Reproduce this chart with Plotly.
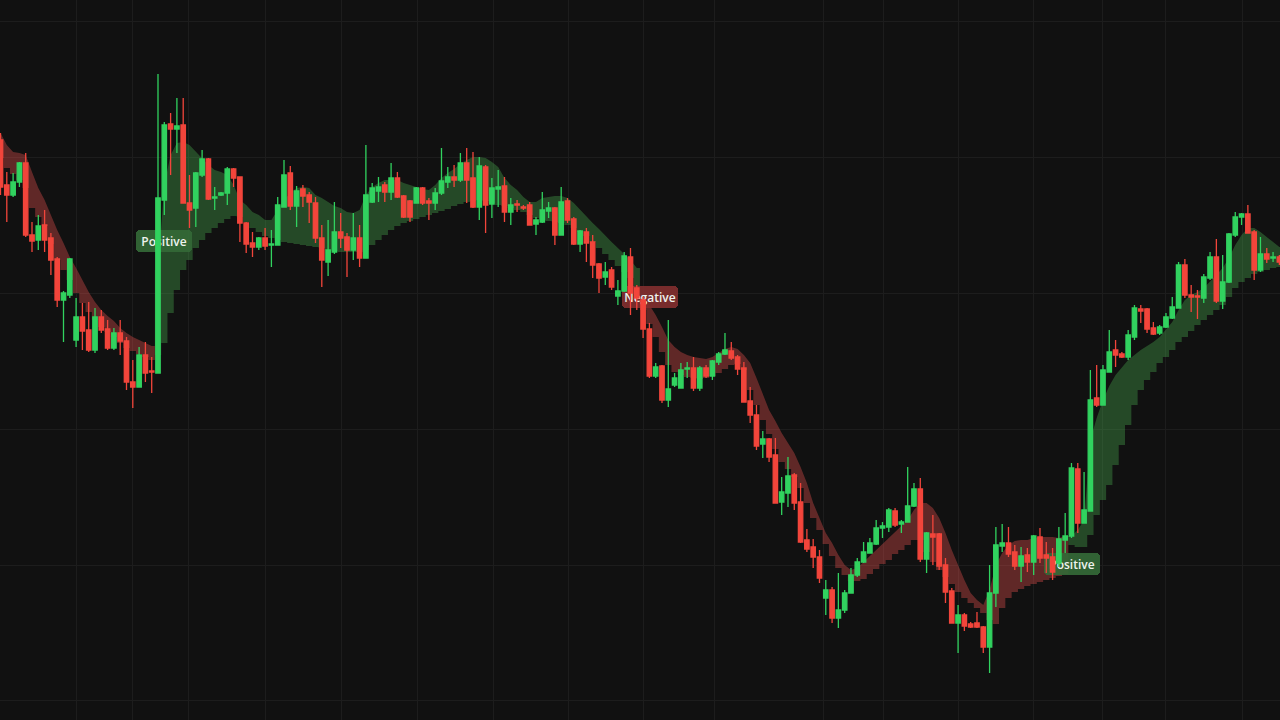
import plotly.graph_objects as go

# ---- candle data (price units) ----
open_ = [580, 535, 525, 538, 557, 485, 480, 495, 482, 461,
         420, 425, 380, 403, 390, 370, 403, 391, 372, 387,
         379, 338, 333, 365, 349, 347, 520, 596, 591, 595,
         517, 512, 545, 561, 522, 525, 527, 551, 543, 497,
         477, 473, 482, 475, 475, 513, 547, 514, 531, 525,
         517, 482, 458, 468, 488, 483, 470, 482, 462, 518,
         529, 535, 528, 542, 524, 519, 517, 532, 519, 517,
         527, 538, 543, 540, 557, 542, 513, 553, 516, 531,
         534, 508, 516, 513, 515, 496, 498, 509, 512, 485,
         519, 501, 476, 488, 478, 456, 443, 450, 424, 429,
         463, 432, 420, 391, 344, 354, 320, 335, 332, 351,
         352, 332, 352, 344, 358, 366, 369, 363, 352, 319,
         305, 276, 281, 265, 218, 227, 245, 218, 180, 173,
         163, 122, 130, 102, 110, 127, 145, 158, 167, 176,
         192, 193, 209, 196, 198, 214, 231, 161, 186, 186,
         155, 129, 97, 105, 96, 97, 93, 73, 127, 174,
         177, 168, 154, 165, 158, 183, 165, 163, 157, 180,
         184, 251, 197, 209, 322, 315, 348, 370, 366, 363,
         383, 411, 411, 392, 387, 393, 402, 412, 455, 425,
         424, 422, 442, 463, 419, 438, 485, 503, 506, 488,
         450, 466, 462, 463]
high = [587, 548, 547, 558, 567, 498, 505, 510, 487, 463,
        429, 462, 422, 417, 418, 412, 410, 400, 392, 400,
        383, 360, 373, 378, 363, 646, 598, 607, 622, 622,
        545, 548, 570, 562, 533, 528, 553, 552, 543, 498,
        488, 483, 492, 490, 523, 560, 554, 534, 535, 528,
        523, 495, 500, 518, 507, 487, 507, 495, 575, 537,
        543, 538, 557, 548, 525, 520, 533, 533, 522, 532,
        572, 553, 555, 567, 572, 568, 563, 555, 542, 550,
        543, 522, 520, 515, 518, 503, 528, 518, 513, 533,
        522, 503, 490, 492, 485, 457, 458, 453, 440, 468,
        472, 435, 423, 397, 357, 355, 400, 347, 357, 358,
        363, 354, 355, 360, 368, 387, 378, 365, 358, 333,
        315, 289, 282, 282, 243, 263, 247, 237, 191, 181,
        170, 140, 133, 147, 130, 152, 162, 178, 182, 200,
        198, 212, 212, 200, 253, 237, 242, 188, 205, 187,
        162, 132, 115, 107, 98, 108, 94, 155, 193, 196,
        193, 175, 173, 172, 185, 192, 178, 172, 193, 207,
        257, 257, 248, 350, 355, 355, 390, 380, 368, 390,
        415, 415, 412, 398, 395, 407, 423, 458, 461, 435,
        430, 446, 468, 481, 465, 487, 508, 507, 515, 490,
        483, 472, 468, 465]
low = [525, 498, 523, 533, 483, 468, 470, 468, 445, 413,
       378, 422, 373, 370, 368, 367, 387, 370, 370, 365,
       330, 312, 333, 338, 327, 347, 505, 545, 567, 517,
       492, 493, 543, 520, 510, 524, 515, 533, 478, 467,
       463, 470, 470, 453, 475, 513, 510, 493, 513, 497,
       477, 433, 444, 466, 472, 443, 460, 453, 462, 517,
       518, 518, 520, 522, 502, 498, 517, 515, 500, 510,
       525, 532, 533, 538, 517, 512, 500, 487, 502, 513,
       498, 495, 508, 510, 495, 485, 497, 502, 475, 485,
       497, 475, 468, 458, 442, 427, 435, 430, 415, 428,
       405, 410, 382, 342, 342, 317, 313, 333, 332, 342,
       329, 329, 342, 340, 355, 365, 360, 345, 318, 297,
       270, 262, 258, 217, 205, 213, 210, 177, 168, 152,
       137, 105, 97, 92, 107, 127, 143, 157, 167, 175,
       182, 188, 193, 187, 198, 213, 158, 147, 155, 150,
       117, 97, 67, 89, 92, 92, 67, 47, 113, 168,
       163, 150, 138, 148, 145, 157, 147, 140, 153, 167,
       182, 187, 197, 209, 313, 315, 348, 353, 362, 360,
       380, 397, 387, 385, 385, 392, 401, 412, 422, 408,
       401, 417, 440, 417, 411, 437, 483, 495, 487, 440,
       448, 457, 458, 455]
close = [533, 525, 538, 557, 485, 479, 494, 480, 460, 420,
         427, 461, 403, 389, 370, 403, 390, 372, 387, 379,
         338, 333, 365, 347, 348, 522, 595, 591, 594, 517,
         510, 547, 561, 521, 523, 527, 551, 542, 497, 476,
         473, 482, 474, 476, 515, 545, 514, 529, 524, 518,
         482, 460, 470, 488, 482, 470, 482, 462, 525, 532,
         533, 528, 542, 523, 503, 503, 532, 517, 517, 527,
         539, 543, 540, 557, 540, 513, 554, 515, 532, 533,
         508, 515, 515, 512, 495, 500, 510, 512, 485, 518,
         500, 476, 489, 477, 455, 442, 448, 433, 429, 464,
         427, 422, 391, 344, 353, 320, 331, 342, 350, 352,
         332, 352, 344, 359, 366, 370, 362, 351, 318, 305,
         274, 281, 263, 217, 228, 244, 217, 178, 171, 163,
         142, 130, 102, 110, 127, 145, 158, 168, 177, 192,
         194, 210, 195, 198, 214, 231, 161, 187, 183, 154,
         128, 97, 105, 94, 93, 93, 73, 127, 175, 177,
         166, 154, 164, 158, 184, 162, 162, 148, 181, 184,
         252, 197, 210, 320, 315, 350, 368, 365, 363, 385,
         412, 409, 391, 386, 393, 403, 413, 455, 425, 423,
         423, 443, 463, 419, 438, 486, 503, 506, 487, 450,
         466, 461, 463, 458]

# ---- trend cloud: smooth upper line and stepped lower line ----
band_hi = [587, 575, 568, 567, 565, 548, 532, 520, 505, 490,
           477, 463, 452, 440, 428, 418, 410, 404, 399, 392,
           387, 383, 380, 377, 374, 450, 535, 565, 577, 578,
           575, 568, 562, 555, 550, 548, 545, 535, 520, 515,
           508, 505, 500, 500, 510, 520, 527, 532, 533, 532,
           525, 522, 518, 514, 512, 508, 507, 510, 525, 533,
           537, 540, 540, 540, 537, 535, 533, 531, 530, 535,
           542, 547, 551, 556, 560, 563, 563, 562, 558, 553,
           542, 535, 530, 523, 518, 518, 522, 523, 524, 524,
           522, 517, 510, 503, 497, 491, 484, 478, 472, 466,
           460, 452, 423, 415, 405, 393, 380, 373, 368, 365,
           363, 362, 361, 363, 367, 371, 373, 371, 365, 357,
           342, 325, 310, 299, 287, 277, 267, 253, 237, 217,
           202, 187, 177, 165, 155, 150, 152, 158, 163, 170,
           175, 182, 188, 193, 200, 210, 217, 217, 212, 202,
           187, 170, 155, 140, 127, 120, 115, 130, 155, 167,
           175, 179, 180, 180, 182, 183, 183, 183, 182, 184,
           184, 190, 200, 280, 302, 320, 334, 345, 353, 360,
           365, 370, 374, 378, 383, 390, 398, 410, 420, 425,
           428, 432, 438, 445, 452, 462, 475, 485, 492, 492,
           488, 483, 478, 473]
band_lo = [562, 552, 546, 540, 532, 512, 503, 494, 476, 460,
           450, 440, 427, 417, 408, 400, 393, 388, 383, 377,
           372, 369, 366, 363, 360, 365, 377, 407, 430, 450,
           460, 472, 480, 487, 492, 497, 501, 504, 503, 498,
           492, 488, 484, 482, 480, 478, 477, 476, 475, 474,
           473, 472, 470, 469, 468, 468, 468, 468, 470, 475,
           480, 485, 490, 494, 497, 499, 501, 503, 505, 507,
           509, 511, 514, 516, 518, 519, 520, 519, 517, 515,
           514, 512, 510, 508, 505, 502, 500, 499, 498, 497,
           495, 492, 488, 484, 478, 472, 466, 460, 454, 448,
           442, 430, 410, 396, 383, 368, 355, 348, 345, 343,
           342, 341, 342, 344, 347, 351, 355, 356, 350, 330,
           315, 300, 286, 271, 258, 251, 243, 232, 217, 202,
           190, 176, 164, 152, 145, 139, 139, 141, 146, 151,
           156, 160, 166, 170, 175, 180, 180, 168, 158, 150,
           143, 136, 128, 122, 117, 112, 107, 100, 96, 112,
           122, 128, 131, 134, 136, 138, 140, 142, 144, 146,
           175, 173, 173, 185, 205, 220, 235, 255, 275, 295,
           315, 330, 340, 348, 357, 363, 370, 378, 383, 389,
           395, 400, 405, 410, 415, 423, 432, 438, 442, 446,
           448, 450, 452, 453]

regime_start = [0, 25, 102, 170]
regime_name = ["neg", "pos", "neg", "pos"]

label_x = [26.0, 103.1, 170.1]
label_y = [479, 423, 156]
label_text = ["Positive", "Negative", "Positive"]
label_kind = ["pos", "neg", "pos"]

grid_x = [12.1, 21.0, 29.8, 42.0, 54.2, 66.2, 78.2, 90.2, 102.0, 113.4,
          130.6, 140.1, 152.0, 164.0, 175.0, 185.0, 197.2]
grid_y = [20, 155, 291, 427, 563, 699]

# ---- build ----
n = len(close)
idx = list(range(n))

band_color = {"pos": "rgba(76,175,80,0.36)", "neg": "rgba(239,83,80,0.36)"}
box_color = {"pos": "rgba(52,104,55,0.93)", "neg": "rgba(128,46,46,0.93)"}

X0, X1 = -0.08, 203.1
Y0, Y1 = 0, 720
W, H = 1280, 720
px_x = W / (X1 - X0)
px_y = H / (Y1 - Y0)
box_w_px, box_h_px = 56, 22

fig = go.Figure()

# cloud segments on the base axes (drawn beneath the overlay axes)
ends = regime_start[1:] + [n]
for s, e, name in zip(regime_start, ends, regime_name):
    xs = [s - 0.5] + list(range(s, e)) + [e - 0.5]
    lo = [band_lo[s]] + band_lo[s:e] + [band_lo[e - 1]]
    hi = [band_hi[s]] + band_hi[s:e] + [band_hi[e - 1]]
    fig.add_trace(go.Scatter(x=xs, y=lo, mode="lines", line=dict(width=0, shape="hvh", color="rgba(0,0,0,0)"),
                             hoverinfo="skip", showlegend=False))
    fig.add_trace(go.Scatter(x=xs, y=hi, mode="lines", line=dict(width=0, color="rgba(0,0,0,0)"),
                             fill="tonexty", fillcolor=band_color[name],
                             hoverinfo="skip", showlegend=False))

# labels and candles on the overlay axes
fig.add_trace(go.Bar(
    x=label_x,
    base=[y - box_h_px / 2 / px_y for y in label_y],
    y=[box_h_px / px_y] * len(label_x),
    width=[box_w_px / px_x] * len(label_x),
    marker=dict(color=[box_color[k] for k in label_kind], line=dict(width=0), cornerradius=4),
    text=label_text,
    textposition="inside",
    insidetextanchor="middle",
    textangle=0,
    insidetextfont=dict(family="Open Sans", size=12, color="#eef3ee", weight=600),
    hoverinfo="skip",
    showlegend=False,
    xaxis="x2", yaxis="y2",
))

fig.add_trace(go.Candlestick(
    x=idx, open=open_, high=high, low=low, close=close,
    increasing=dict(line=dict(color="#31d25f", width=1.3), fillcolor="#31d25f"),
    decreasing=dict(line=dict(color="#f2453b", width=1.3), fillcolor="#f2453b"),
    whiskerwidth=0,
    hoverinfo="skip",
    showlegend=False,
    xaxis="x2", yaxis="y2",
))

fig.update_layout(
    width=W, height=H,
    margin=dict(l=0, r=0, t=0, b=0),
    paper_bgcolor="#111111",
    plot_bgcolor="#111111",
    barmode="overlay",
    bargap=0,
    boxgap=0.0,
    showlegend=False,
    uniformtext=dict(minsize=12, mode="show"),
    xaxis=dict(range=[X0, X1], tickvals=grid_x, showticklabels=False, ticks="",
               showgrid=True, gridcolor="#1d1d1d", gridwidth=1, zeroline=False,
               showline=False, fixedrange=True),
    yaxis=dict(range=[Y0, Y1], tickvals=grid_y, showticklabels=False, ticks="",
               showgrid=True, gridcolor="#1d1d1d", gridwidth=1, zeroline=False,
               showline=False, fixedrange=True),
    xaxis2=dict(range=[X0, X1], overlaying="x", visible=False, showgrid=False,
                zeroline=False, rangeslider=dict(visible=False), fixedrange=True),
    yaxis2=dict(range=[Y0, Y1], overlaying="y", visible=False, showgrid=False,
                zeroline=False, fixedrange=True),
)

fig.write_html(
    "out.html",
    config={"displayModeBar": False},
    post_script="document.body.style.margin='0';document.body.style.overflow='hidden';",
)
